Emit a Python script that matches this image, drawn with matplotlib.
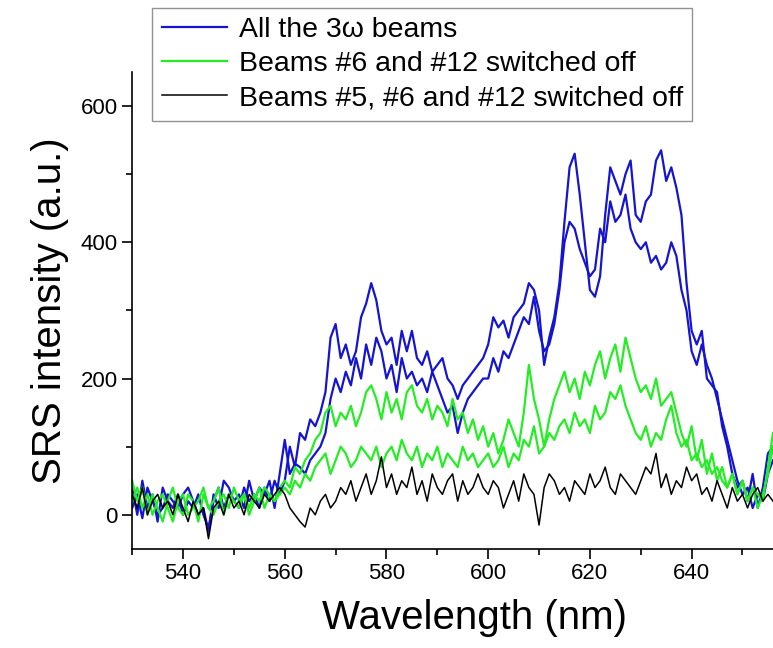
import numpy as np
import matplotlib.pyplot as plt
from matplotlib.ticker import MultipleLocator

plt.rcParams['font.family'] = ['Liberation Sans', 'DejaVu Sans']

# wavelength grid (nm), one sample per nm
wavelength = np.arange(530, 657)

# all the 3w beams (two shots)
blue_a = [40, 0, 50, 10, 30, -10, 40, 20, 10, 30, 0, 20, 10, 30, 0, -20, 20, 40, 10, 30,
          20, 10, 40, 20, 30, 10, 40, 20, 50, 30,
          50, 100, 70, 120, 110, 140, 130, 150, 180, 260,
          280, 230, 250, 220, 240, 290, 310, 340, 315, 270,
          250, 260, 220, 270, 240, 270, 230, 220, 240, 210,
          220, 230, 200, 190, 170, 190, 200, 210, 220, 230,
          250, 290, 275, 285, 260, 290, 300, 310, 340, 330,
          300, 220, 260, 290, 340, 430, 510, 530, 470, 400,
          330, 320, 350, 440, 510, 490, 470, 500, 520, 440,
          430, 460, 470, 520, 535, 490, 510, 480, 440, 340,
          270, 250, 270, 200, 190, 180, 130, 100, 60, 40,
          50, 20, 60, 10, 40, 90, 100]
blue_b = [10, 30, -5, 40, 20, 0, 10, 30, 20, 10, 30, 40, 20, 0, 10, -25, 30, 10, 50, 40,
          20, 30, 10, 50, 20, 40, 30, 50, 10, 60,
          110, 60, 75, 70, 60, 80, 90, 100, 120, 170,
          200, 180, 210, 190, 230, 200, 250, 220, 260, 240,
          200, 220, 180, 230, 200, 210, 190, 200, 180, 210,
          190, 170, 150, 160, 120, 150, 170, 180, 190, 200,
          200, 230, 210, 240, 230, 250, 270, 290, 280, 320,
          270, 240, 250, 280, 330, 400, 430, 420, 390, 370,
          350, 360, 420, 400, 460, 430, 440, 470, 420, 400,
          390, 400, 370, 380, 360, 370, 400, 380, 330, 300,
          240, 220, 250, 220, 200, 170, 140, 110, 80, 50,
          30, 40, 10, 30, 20, 60, 80]

# beams #6 and #12 switched off (two shots)
green_a = [50, 20, 40, 0, 30, 10, -10, 20, 40, 10, 0, 30, 20, -10, 30, 10, 20, 40, 0, 30,
           20, 10, 30, 0, 20, 40, 10, 30, 20, 40,
           50, 40, 70, 60, 80, 90, 110, 120, 150, 160, 130, 150, 140, 160, 130, 150, 180, 190, 170, 140,
           180, 150, 170, 140, 180, 190, 160, 150, 170, 140, 160, 150, 130, 170, 140, 150, 120, 140, 110, 130,
           100, 120, 90, 110, 140, 120, 100, 150, 220, 170, 140, 100, 140, 170, 190, 210, 180, 200, 170, 210,
           190, 220, 240, 200, 230, 250, 210, 260, 230, 200, 180, 190, 170, 200, 160, 170, 180, 150, 120, 100,
           130, 80, 110, 60, 90, 50, 70, 40, 60, 30, 50, 20, 40, 30, 20, 70, 120]
green_b = [20, 40, 10, 30, 0, 20, 30, 10, -10, 20, 30, 0, 10, 20, 40, 10, 0, 20, 30, 10,
           40, 20, 30, 10, 30, 20, 40, 30, 20, 30,
           40, 30, 50, 40, 60, 50, 70, 80, 90, 60, 80, 100, 90, 70, 80, 100, 90, 80, 100, 70,
           90, 100, 80, 110, 90, 80, 100, 70, 90, 80, 100, 70, 90, 80, 70, 100, 80, 90, 70, 80,
           90, 70, 80, 100, 70, 90, 80, 110, 100, 130, 90, 100, 120, 110, 130, 140, 120, 150, 130, 140,
           120, 160, 140, 150, 180, 170, 190, 160, 140, 120, 110, 130, 100, 120, 110, 140, 160, 120, 100, 110,
           80, 90, 70, 80, 60, 70, 50, 40, 60, 30, 50, 20, 40, 10, 30, 60, 100]

# beams #5, #6 and #12 switched off
black = [30, 10, 40, 0, 20, 30, 10, 20, 0, 30, 10, -10, 20, 0, 10, -35, 10, 20, 0, 30,
         10, 20, 0, 30, 20, 10, 30, 20, 30, 40,
         30, 10, 0, -10, -18, 10, 0, 20, 30, 10, 20, 40, 30, 50, 20, 40, 60, 30, 50, 85,
         40, 60, 30, 50, 40, 70, 30, 50, 20, 60, 40, 30, 50, 60, 20, 50, 30, 40, 60, 40,
         30, 50, 40, 10, 30, 50, 20, 60, 40, 30, -15, 40, 60, 50, 30, 40, 20, 50, 40, 30,
         60, 40, 50, 70, 40, 30, 60, 50, 40, 30, 50, 70, 60, 90, 40, 60, 30, 50, 40, 70,
         50, 60, 30, 40, 20, 50, 30, 10, 40, 20, 30, 10, 30, 40, 20, 30, 20]

labels = ['All the 3\u03c9 beams', 'Beams #6 and #12 switched off',
          'Beams #5, #6 and #12 switched off']

fig = plt.figure(figsize=(7.73, 6.48), dpi=100)
ax = fig.add_axes([0.171, 0.153, 0.829, 0.736])

blue = '#1414d2'
green = '#22ee22'
l1, = ax.plot(wavelength, blue_a, color=blue, lw=1.6)
ax.plot(wavelength, blue_b, color=blue, lw=1.6)
l2, = ax.plot(wavelength, green_a, color=green, lw=1.6)
ax.plot(wavelength, green_b, color=green, lw=1.6)
l3, = ax.plot(wavelength, black, color='black', lw=1.1)

ax.set_xlim(530, 656)
ax.set_ylim(-50, 650)
ax.xaxis.set_major_locator(MultipleLocator(20))
ax.xaxis.set_minor_locator(MultipleLocator(10))
ax.yaxis.set_major_locator(MultipleLocator(200))
ax.yaxis.set_minor_locator(MultipleLocator(100))
ax.tick_params(which='major', direction='out', length=7, width=1.2, labelsize=16)
ax.tick_params(which='minor', direction='out', length=4, width=1.2)
for s in ['top', 'right']:
    ax.spines[s].set_visible(False)
for s in ['left', 'bottom']:
    ax.spines[s].set_linewidth(1.2)

ax.set_xlabel('Wavelength (nm)', fontsize=29)
ax.xaxis.set_label_coords(0.534, -0.105)
ax.set_ylabel('SRS intensity (a.u.)', fontsize=29, labelpad=8)

leg = fig.legend([l1, l2, l3], labels, loc='upper left',
                 bbox_to_anchor=(0.197, 0.988), fontsize=20.5, frameon=True,
                 fancybox=False, handlelength=2.3, handletextpad=0.4,
                 labelspacing=0.28, borderpad=0.33, borderaxespad=0)
leg.get_frame().set_edgecolor('#777777')
leg.get_frame().set_linewidth(1.0)

fig.savefig('out.png', dpi=100)
